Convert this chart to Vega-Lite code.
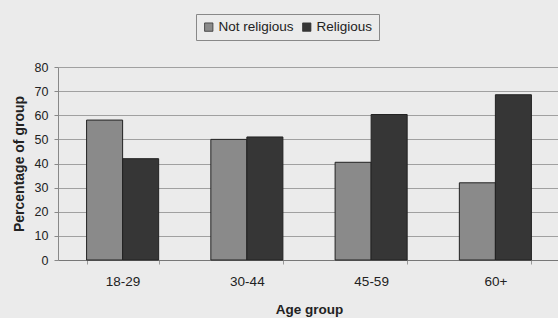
{
  "$schema": "https://vega.github.io/schema/vega-lite/v6.json",
  "width": 502,
  "height": 193,
  "autosize": "none",
  "padding": {"left": 58, "top": 67, "right": 0, "bottom": 58},
  "background": "#ebebeb",
  "config": {
    "view": {"stroke": null},
    "font": "Liberation Sans",
    "axis": {"labelFont": "Liberation Sans", "titleFont": "Liberation Sans"}
  },
  "data": {
    "values": [
      {"age": "18-29", "group": "Not religious", "pct": 58},
      {"age": "18-29", "group": "Religious", "pct": 42},
      {"age": "30-44", "group": "Not religious", "pct": 50},
      {"age": "30-44", "group": "Religious", "pct": 51},
      {"age": "45-59", "group": "Not religious", "pct": 40.5},
      {"age": "45-59", "group": "Religious", "pct": 60.3},
      {"age": "60+", "group": "Not religious", "pct": 32},
      {"age": "60+", "group": "Religious", "pct": 68.5}
    ]
  },
  "mark": {"type": "bar", "stroke": "#222222", "strokeWidth": 1},
  "encoding": {
    "x": {
      "field": "age",
      "type": "nominal",
      "sort": null,
      "scale": {"paddingInner": 0.42, "paddingOuter": 0.23},
      "axis": {
        "title": "Age group",
        "titleFontSize": 13.5,
        "titleFontWeight": "bold",
        "titleColor": "#222222",
        "titlePadding": 15,
        "labelAngle": 0,
        "labelFontSize": 13.5,
        "labelColor": "#222222",
        "labelPadding": 10,
        "domainColor": "#777777",
        "tickBand": "extent",
        "tickSize": 4,
        "tickColor": "#999999"
      }
    },
    "xOffset": {"field": "group", "type": "nominal", "scale": {"paddingInner": 0, "paddingOuter": 0}},
    "y": {
      "field": "pct",
      "type": "quantitative",
      "scale": {"domain": [0, 80]},
      "axis": {
        "title": "Percentage of group",
        "titleFontSize": 14,
        "titleFontWeight": "bold",
        "titleColor": "#222222",
        "titlePadding": 8,
        "values": [0, 10, 20, 30, 40, 50, 60, 70, 80],
        "labelFontSize": 12.5,
        "labelColor": "#222222",
        "labelPadding": 6,
        "tickSize": 4,
        "tickColor": "#888888",
        "domainColor": "#888888",
        "gridColor": "#a0a0a0",
        "gridWidth": 1
      }
    },
    "color": {
      "field": "group",
      "type": "nominal",
      "scale": {"domain": ["Not religious", "Religious"], "range": ["#8a8a8a", "#363636"]},
      "legend": {
        "title": null,
        "orient": "none",
        "direction": "horizontal",
        "legendX": 138,
        "legendY": -53,
        "symbolType": "square",
        "symbolSize": 70,
        "symbolStrokeColor": "#333333",
        "symbolStrokeWidth": 0.8,
        "labelFontSize": 13.5,
        "labelColor": "#222222",
        "labelOffset": 3,
        "columnPadding": 6,
        "padding": 6,
        "strokeColor": "#888888",
        "fillColor": "#ebebeb"
      }
    }
  }
}
